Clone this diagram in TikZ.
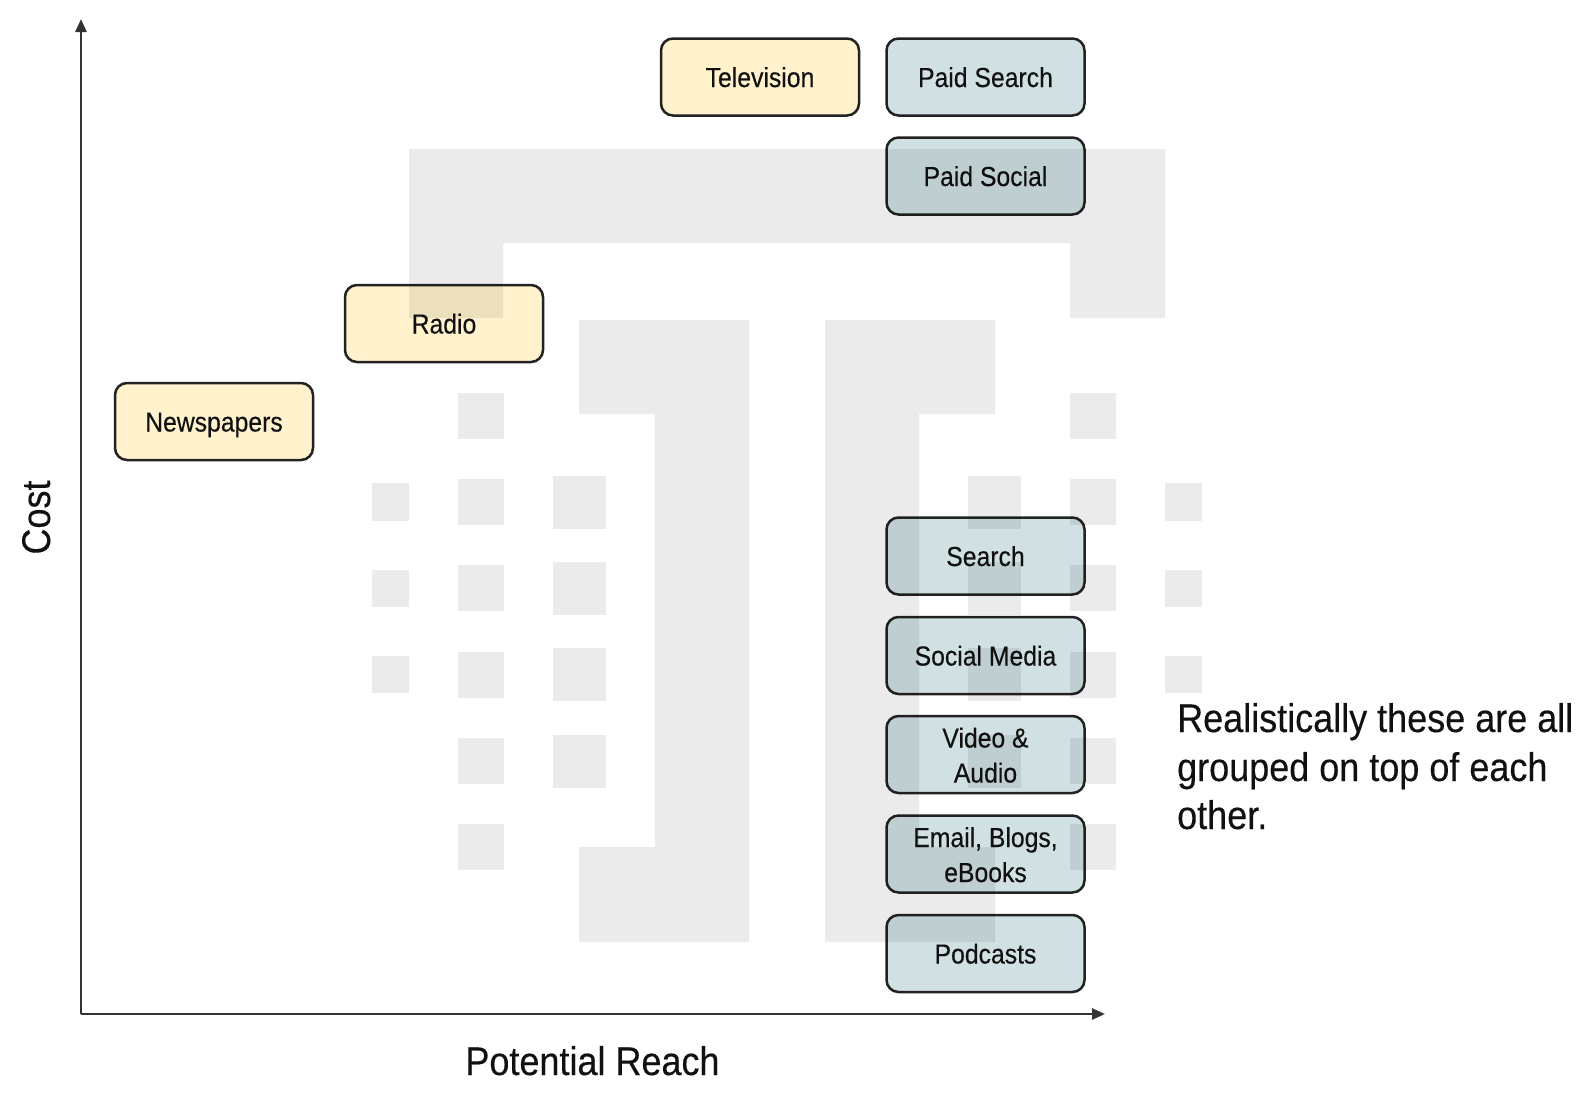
\documentclass[tikz,border=0pt]{standalone}
\usepackage{fontspec}
\setmainfont{Liberation Sans}[FakeStretch=0.9,FakeBold=0.3]
\usetikzlibrary{arrows.meta}
\definecolor{beige}{HTML}{FFF2CC}
\definecolor{bluegray}{HTML}{D0E0E3}
\definecolor{edgec}{HTML}{222222}
\definecolor{axisc}{HTML}{333333}
\definecolor{txt}{HTML}{111111}
\begin{document}
\begin{tikzpicture}[x=1pt,y=-1pt,
  box/.style={draw=edgec, line width=2.5pt, rounded corners=12pt,
    minimum width=198pt, minimum height=77pt, inner sep=0pt, align=center,
    text=txt, font=\fontsize{27.5}{35}\selectfont, text height=20pt, text depth=0pt},
  twoline/.style={text height=56pt, text depth=0pt},
  trad/.style={box, fill=beige},
  digi/.style={box, fill=bluegray},
  axisline/.style={draw=axisc, line width=2.5pt, -{Triangle[length=13pt,width=11pt]}},
  biglabel/.style={text=txt, inner sep=0pt, font=\fontsize{40}{48.5}\selectfont},
  wmark/.style={fill=black, fill opacity=0.08, draw=none}
]
\useasboundingbox (0,0) rectangle (1588,1101);

% boxes
\node[trad] (tv) at (760,77) {Television};
\node[digi] (paidsearch) at (985.5,77) {Paid Search};
\node[digi] (paidsocial) at (985.5,176) {Paid Social};
\node[trad] (radio) at (444,323.5) {Radio};
\node[trad] (news) at (214,421.5) {Newspapers};
\node[digi] (search) at (985.5,556) {Search};
\node[digi] (social) at (985.5,655.5) {Social Media};
\node[digi, twoline] (video) at (985.5,754.5) {Video \&\\Audio};
\node[digi, twoline] (email) at (985.5,854) {Email, Blogs,\\eBooks};
\node[digi] (podcasts) at (985.5,953.5) {Podcasts};

% watermark
\path[wmark]
  (409,149) -- (1165,149) -- (1165,318) -- (1070,318) -- (1070,243) -- (503,243) -- (503,318) -- (409,318) -- cycle
  (579,320) -- (749,320) -- (749,942) -- (579,942) -- (579,847) -- (655,847) -- (655,414) -- (579,414) -- cycle
  (995,320) -- (825,320) -- (825,942) -- (995,942) -- (995,847) -- (919,847) -- (919,414) -- (995,414) -- cycle;
\foreach \r in {502,588.3,674.6} {
  \path[wmark] (390.5-18.75,\r-18.75) rectangle ++(37.5,37.5);
  \path[wmark] (1183.5-18.75,\r-18.75) rectangle ++(37.5,37.5);
}
\foreach \r in {415.5,502,588.3,674.6,761,847.3} {
  \path[wmark] (481-23,\r-23) rectangle ++(46,46);
  \path[wmark] (1093-23,\r-23) rectangle ++(46,46);
}
\foreach \r in {502,588.3,674.6,761} {
  \path[wmark] (579.5-26.5,\r-26.5) rectangle ++(53,53);
  \path[wmark] (994.5-26.5,\r-26.5) rectangle ++(53,53);
}

% axes
\coordinate (origin) at (81,1014);
\coordinate (ytip) at (81,19);
\coordinate (xtip) at (1105,1014);
\draw[axisline] (origin) -- (ytip);
\draw[axisline] (origin) -- (xtip);

% labels
\node[biglabel, anchor=base, rotate=90] (cost) at (50,517.5) {Cost};
\node[biglabel, anchor=base] (reach) at (592.5,1075) {Potential Reach};
\node[biglabel, anchor=base west] (note1) at (1177,732) {Realistically these are all};
\node[biglabel, anchor=base west] (note2) at (1177,781) {grouped on top of each};
\node[biglabel, anchor=base west] (note3) at (1177,829) {other.};
\end{tikzpicture}
\end{document}
